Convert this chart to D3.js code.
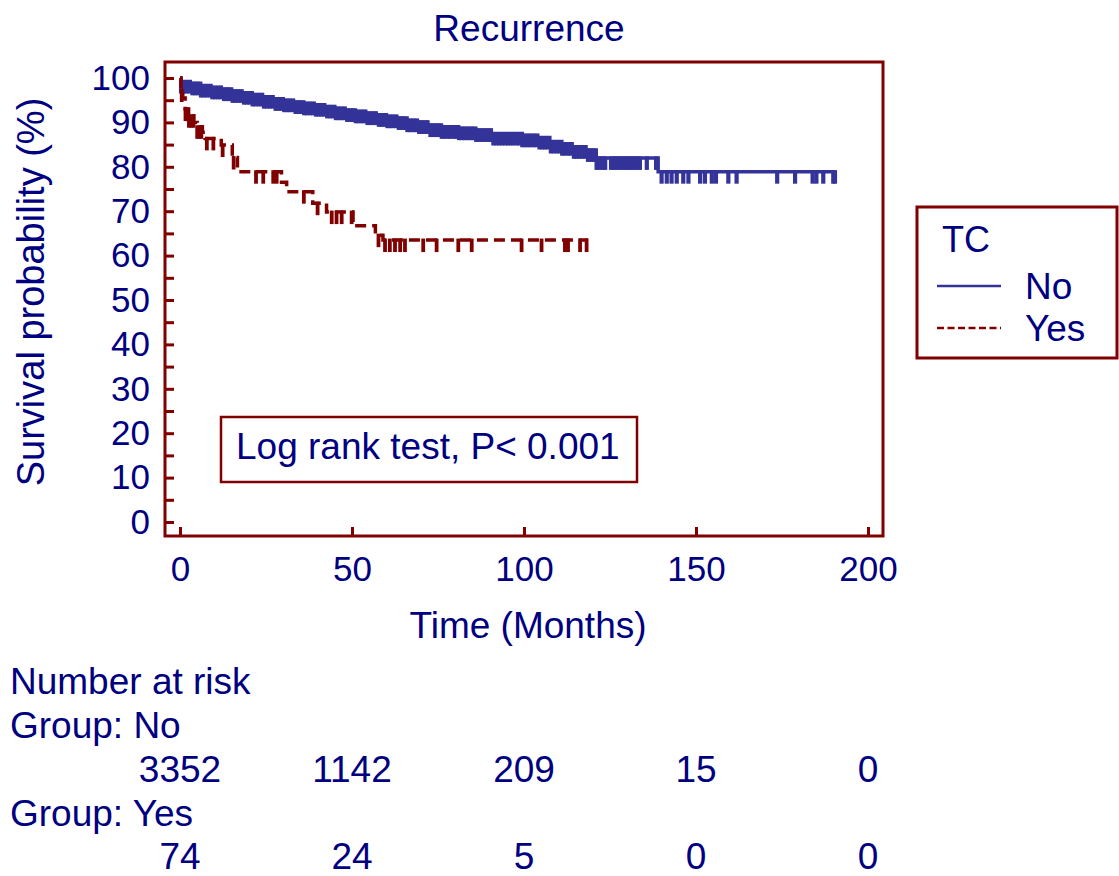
<!DOCTYPE html>
<html>
<head>
<meta charset="utf-8">
<script src="https://cdn.jsdelivr.net/npm/d3@7/dist/d3.min.js"></script>
<style>
  body { margin: 0; background: #fff; }
  text { font-family: "Liberation Sans", Arial, sans-serif; fill: #000080; }
</style>
</head>
<body>
<div id="chart"></div>
<script>
// Kaplan-Meier steps (time in months, survival in %)
var noTimes = [0, 0.3, 3, 6, 9, 12, 15, 18, 21, 24, 27, 30, 33, 36, 39, 42, 45, 48, 51, 54, 57, 60, 63, 66, 69, 72, 76, 81, 86, 90.5, 99.5, 104, 107.5, 111, 114, 118, 121, 139, 190.5];
var noSurv  = [100, 99.2, 98.8, 98.3, 97.9, 97.5, 97.1, 96.7, 96.3, 95.8, 95.3, 95.0, 94.6, 94.3, 94.0, 93.6, 93.2, 92.8, 92.5, 92.1, 91.7, 91.4, 91.0, 90.5, 90.1, 89.4, 89.0, 88.7, 88.3, 87.5, 87.1, 86.6, 85.7, 85.2, 84.5, 83.8, 82.0, 78.9, 78.9];
var noCensor = [0.3, 1.1, 1.9, 2.7, 3.6, 4.4, 5.2, 6.1, 6.9, 7.7, 8.6, 9.4, 10.2, 11.1, 11.9, 12.8, 13.6, 14.4, 15.3, 16.1, 16.9, 17.8, 18.6, 19.4, 20.3, 21.1, 21.9, 22.8, 23.6, 24.4, 25.3, 26.1, 26.9, 27.8, 28.6, 29.5, 30.3, 31.1, 31.9, 32.8, 33.6, 34.5, 35.3, 36.1, 36.9, 37.8, 38.6, 39.5, 40.3, 41.1, 41.9, 42.8, 43.6, 44.5, 45.3, 46.1, 46.9, 47.8, 48.6, 49.5, 50.3, 51.1, 51.9, 52.8, 53.6, 54.5, 55.3, 56.1, 56.9, 57.8, 58.6, 59.5, 60.3, 61.1, 61.9, 62.8, 63.6, 64.5, 65.3, 66.1, 66.9, 67.8, 68.6, 69.5, 70.3, 71.1, 71.9, 72.8, 73.6, 74.5, 75.3, 76.1, 76.9, 77.8, 78.6, 79.5, 80.3, 81.1, 81.9, 82.8, 83.6, 84.5, 85.3, 86.1, 86.9, 87.8, 88.6, 89.5, 90.3, 91.1, 91.9, 92.8, 93.6, 94.5, 95.3, 96.1, 96.9, 97.8, 98.6, 99.5, 100.3, 101.1, 101.9, 102.8, 103.6, 104.5, 105.3, 106.1, 106.9, 107.8, 108.6, 109.5, 110.3, 111.1, 111.9, 112.8, 113.6, 114.5, 115.3, 116.1, 116.9, 117.8, 118.6, 119.5, 120.3, 121.1, 121.9, 122.8, 123.6, 125.3, 126.1, 126.9, 127.8, 128.6, 129.5, 130.3, 131.1, 131.9, 132.8,
  133.7, 135.7, 138.4, 140.0, 141.5, 142.9, 144.4, 146.3, 147.8, 151.2, 152.6, 154.6, 155.8, 159.4, 161.8, 173.6, 178.8, 183.9, 185.0, 187.0, 189.9, 190.4];

var yesTimes = [0, 0.3, 0.8, 1.5, 2.5, 4, 5, 6.5, 7.3, 12, 15.2, 16.7, 29.5, 31, 38.6, 42.6, 50.3, 56.8, 59, 118.6];
var yesSurv  = [100, 97.3, 95.5, 93.0, 91.5, 90.0, 89.0, 87.8, 86.4, 84.9, 82.1, 78.9, 76.5, 74.4, 71.8, 69.8, 66.7, 64.6, 63.5, 63.5];
var yesCensor = [0.5, 1.6, 2.1, 2.6, 3.3, 3.9, 5.0, 5.6, 6.2, 7.8, 9.7, 12.4, 15.6, 22.1, 24.2, 27.1, 28.1, 36.0, 40.0, 44.1, 45.5, 47.0, 49.9, 57.7, 59.6, 61.0, 62.5, 64.0, 65.4, 70.7, 74.6, 80.9, 84.8, 99.3, 105.1, 111.9, 112.8, 116.3, 118.2];

var xTickValues = [0, 50, 100, 150, 200];
var yTickValues = [0, 5, 10, 15, 20, 25, 30, 35, 40, 45, 50, 55, 60, 65, 70, 75, 80, 85, 90, 95, 100];
var riskNo  = [3352, 1142, 209, 15, 0];
var riskYes = [74, 24, 5, 0, 0];
var groups = ["No", "Yes"];

var width = 1119, height = 876;
var frameColor = "#800000", blue = "#333399", red = "#800000";

var svg = d3.select("#chart").append("svg")
    .attr("width", width)
    .attr("height", height);

var xScale = d3.scaleLinear().domain([0, 200]).range([180, 868]);
var yScale = d3.scaleLinear().domain([0, 100]).range([522, 78]);

// frame
var frame = {left: 165, top: 62, right: 883, bottom: 536};
svg.append("rect")
    .attr("x", frame.left).attr("y", frame.top)
    .attr("width", frame.right - frame.left)
    .attr("height", frame.bottom - frame.top)
    .attr("fill", "none")
    .attr("stroke", frameColor)
    .attr("stroke-width", 3);

// axes with inward ticks
var xAxis = d3.axisBottom(xScale).tickValues(xTickValues)
    .tickSizeInner(-9).tickSizeOuter(0).tickPadding(20);
var gx = svg.append("g")
    .attr("transform", "translate(0," + frame.bottom + ")")
    .call(xAxis);

var yAxis = d3.axisLeft(yScale).tickValues(yTickValues)
    .tickSizeInner(-9).tickSizeOuter(0).tickPadding(15)
    .tickFormat(function(d) { return d % 10 === 0 ? d : ""; });
var gy = svg.append("g")
    .attr("transform", "translate(" + frame.left + ",0)")
    .call(yAxis);

[gx, gy].forEach(function(g) {
  g.select(".domain").remove();
  g.selectAll(".tick line").attr("stroke", frameColor).attr("stroke-width", 3);
  g.selectAll(".tick text")
      .attr("font-family", "Liberation Sans, Arial, sans-serif")
      .attr("font-size", 35)
      .attr("fill", "#000080");
});

// step curves
function steps(times, surv) {
  return times.map(function(t, i) { return {t: t, s: surv[i]}; });
}
var stepLine = d3.line()
    .curve(d3.curveStepAfter)
    .x(function(d) { return xScale(d.t); })
    .y(function(d) { return yScale(d.s); });

function survAt(times, surv, t) {
  var i = d3.bisectRight(times, t) - 1;
  return surv[Math.max(0, i)];
}

function drawCurve(times, surv, censor, color, dash, tickW, tickLen) {
  var g = svg.append("g");
  g.append("path")
      .datum(steps(times, surv))
      .attr("d", stepLine)
      .attr("fill", "none")
      .attr("stroke", color)
      .attr("stroke-width", 3.5)
      .attr("stroke-dasharray", dash);
  g.selectAll("line.censor")
      .data(censor)
      .enter().append("line")
      .attr("class", "censor")
      .attr("x1", function(d) { return xScale(d); })
      .attr("x2", function(d) { return xScale(d); })
      .attr("y1", function(d) { return yScale(survAt(times, surv, d)) - 1.5; })
      .attr("y2", function(d) { return yScale(survAt(times, surv, d)) + tickLen; })
      .attr("stroke", color)
      .attr("stroke-width", tickW);
}

drawCurve(noTimes, noSurv, noCensor, blue, null, 4.2, 12);
drawCurve(yesTimes, yesSurv, yesCensor, red, "11,6", 3.8, 12);

// title and axis labels
svg.append("text")
    .attr("x", 529).attr("y", 41)
    .attr("text-anchor", "middle")
    .attr("font-size", 37)
    .text("Recurrence");

svg.append("text")
    .attr("x", 528).attr("y", 638)
    .attr("text-anchor", "middle")
    .attr("font-size", 37)
    .text("Time (Months)");

svg.append("text")
    .attr("transform", "translate(44,292) rotate(-90)")
    .attr("text-anchor", "middle")
    .attr("font-size", 38)
    .text("Survival probability (%)");

// log rank box
svg.append("rect")
    .attr("x", 221).attr("y", 417)
    .attr("width", 416).attr("height", 65)
    .attr("fill", "#fff")
    .attr("stroke", frameColor)
    .attr("stroke-width", 2.5);
svg.append("text")
    .attr("x", 236).attr("y", 459)
    .attr("font-size", 37)
    .text("Log rank test, P< 0.001");

// legend
var legend = svg.append("g");
legend.append("rect")
    .attr("x", 917).attr("y", 207)
    .attr("width", 200).attr("height", 151)
    .attr("fill", "#fff")
    .attr("stroke", frameColor)
    .attr("stroke-width", 3);
legend.append("text")
    .attr("x", 942).attr("y", 252)
    .attr("font-size", 36)
    .text("TC");
var legendY = [286, 328];
groups.forEach(function(name, i) {
  legend.append("line")
      .attr("x1", 937).attr("x2", 1001)
      .attr("y1", legendY[i]).attr("y2", legendY[i])
      .attr("stroke", i === 0 ? blue : red)
      .attr("stroke-width", 2.5)
      .attr("stroke-dasharray", i === 0 ? null : "7,3.5");
  legend.append("text")
      .attr("x", 1025).attr("y", legendY[i] + 13)
      .attr("font-size", 37)
      .text(name);
});

// number at risk table
var riskRows = [
  {label: "Number at risk", y: 694},
  {label: "Group: No", y: 738},
  {values: riskNo, y: 782},
  {label: "Group: Yes", y: 826},
  {values: riskYes, y: 869}
];
riskRows.forEach(function(row) {
  if (row.label) {
    svg.append("text")
        .attr("x", 10).attr("y", row.y)
        .attr("font-size", 37)
        .text(row.label);
  } else {
    svg.selectAll(null)
        .data(row.values)
        .enter().append("text")
        .attr("x", function(d, i) { return xScale(xTickValues[i]); })
        .attr("y", row.y)
        .attr("text-anchor", "middle")
        .attr("font-size", 37)
        .text(function(d) { return d; });
  }
});
</script>
</body>
</html>
